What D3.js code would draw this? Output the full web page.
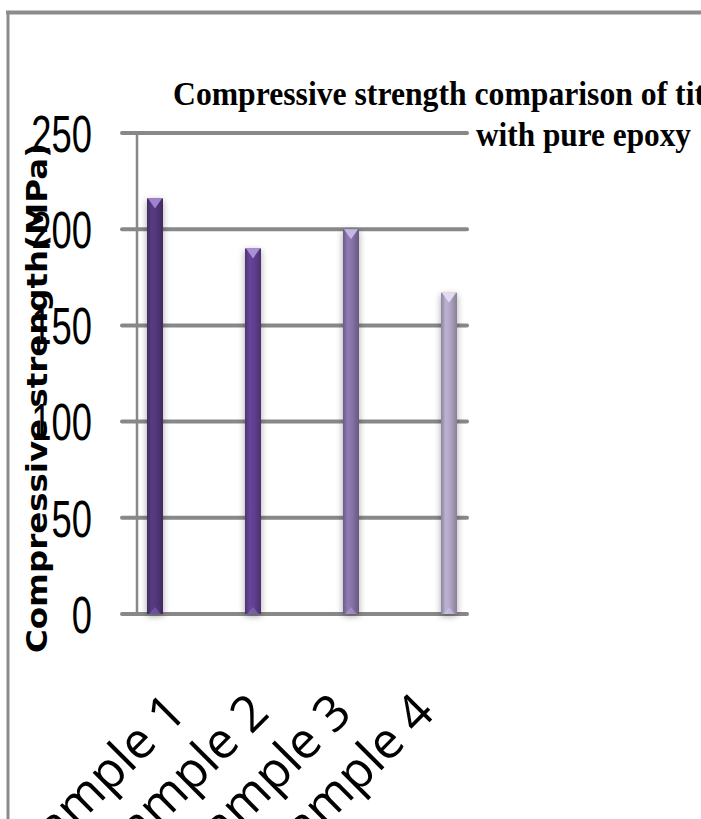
<!DOCTYPE html>
<html>
<head>
<meta charset="utf-8">
<script src="https://cdn.jsdelivr.net/npm/d3@7"></script>
<style>
  html, body { margin: 0; padding: 0; background: #fff; }
  svg { display: block; }
</style>
</head>
<body>
<svg id="chart" width="701" height="819"></svg>
<script>
// ---- data ----
const categories = ["Sample 1", "Sample 2", "Sample 3", "Sample 4"];
const strengthValues = [216, 190, 200, 167];
const yTickValues = [0, 50, 100, 150, 200, 250];
const yTickLabels = ["0", "50", "100", "150", "200", "250"];
const titleLines = ["Compressive strength comparison of tit", "with pure epoxy"];
const yAxisTitle = "Compressive strength(MPa)";

// ---- styles ----
const barColors = ["#51367a", "#5f3f8d", "#8471a6", "#aea3c2"];
const tipColors = ["#9d84cc", "#a88fd6", "#c6b6e3", "#e2daf0"];
const gridColor = "#888888";

const svg = d3.select("#chart");
const W = 701, H = 819;

// scales
const y = d3.scaleLinear().domain([0, 250]).range([614, 133]);
const xBars = d3.scaleBand().domain(categories).range([106, 498]);
const xLabels = d3.scaleBand().domain(categories).range([137, 468]);

const defs = svg.append("defs");
const shadow = defs.append("filter").attr("id", "shadow")
  .attr("x", "-150%").attr("y", "-10%").attr("width", "400%").attr("height", "125%");
shadow.append("feGaussianBlur").attr("in", "SourceAlpha").attr("stdDeviation", 3.5);
shadow.append("feOffset").attr("dx", 0).attr("dy", 2).attr("result", "blur");
shadow.append("feComponentTransfer").append("feFuncA").attr("type", "linear").attr("slope", 0.35);
const merge = shadow.append("feMerge");
merge.append("feMergeNode");
merge.append("feMergeNode").attr("in", "SourceGraphic");

barColors.forEach((c, i) => {
  const g = defs.append("linearGradient").attr("id", "grad" + i)
    .attr("x1", "0%").attr("x2", "100%").attr("y1", "0%").attr("y2", "0%");
  const base = d3.color(c);
  g.append("stop").attr("offset", "0%").attr("stop-color", base.darker(0.6));
  g.append("stop").attr("offset", "30%").attr("stop-color", base.brighter(0.25));
  g.append("stop").attr("offset", "60%").attr("stop-color", base);
  g.append("stop").attr("offset", "100%").attr("stop-color", base.darker(0.7));
});

// outer frame
svg.append("line").attr("x1", 6).attr("x2", W).attr("y1", 12.5).attr("y2", 12.5)
  .attr("stroke", "#8c8c8c").attr("stroke-width", 4);
svg.append("line").attr("x1", 8).attr("x2", 8).attr("y1", 11).attr("y2", H)
  .attr("stroke", "#8c8c8c").attr("stroke-width", 3);

// gridlines
svg.append("g").selectAll("line").data(yTickValues).join("line")
  .attr("x1", 122).attr("x2", 467)
  .attr("y1", d => y(d)).attr("y2", d => y(d))
  .attr("stroke", gridColor).attr("stroke-width", 4).attr("stroke-linecap", "round");

// y axis line
svg.append("line").attr("x1", 137).attr("x2", 137).attr("y1", y(250)).attr("y2", y(0))
  .attr("stroke", gridColor).attr("stroke-width", 2.5);

// y tick labels
svg.append("g").selectAll("g").data(yTickValues).join("g")
  .attr("transform", d => `translate(92,${y(d)}) scale(0.7,1)`)
  .append("text")
  .attr("text-anchor", "end").attr("dy", "0.36em")
  .attr("font-family", "'Liberation Sans', Arial, sans-serif")
  .attr("font-size", 52).attr("fill", "#000")
  .text((d, i) => yTickLabels[i]);

// bars
const barW = 16;
const bars = svg.append("g").selectAll("g").data(categories).join("g");
bars.append("rect")
  .attr("x", d => xBars(d) + xBars.bandwidth() / 2 - barW / 2)
  .attr("width", barW)
  .attr("y", (d, i) => y(strengthValues[i]))
  .attr("height", (d, i) => y(0) - y(strengthValues[i]))
  .attr("fill", (d, i) => `url(#grad${i})`)
  .attr("filter", "url(#shadow)");
bars.append("path")
  .attr("d", (d, i) => {
    const cx = xBars(d) + xBars.bandwidth() / 2;
    const t = y(strengthValues[i]);
    return `M${cx - barW / 2 + 1},${t} L${cx + barW / 2 - 1},${t} L${cx},${t + 10} Z`;
  })
  .attr("fill", (d, i) => tipColors[i]);
bars.append("path")
  .attr("d", d => {
    const cx = xBars(d) + xBars.bandwidth() / 2;
    const b = y(0);
    return `M${cx - barW / 2 + 2},${b} L${cx + barW / 2 - 2},${b} L${cx},${b - 7} Z`;
  })
  .attr("fill", (d, i) => tipColors[i]).attr("opacity", 0.35);

// x labels (partly cut by the bottom edge, as in the reference)
svg.append("g").selectAll("text").data(categories).join("text")
  .attr("transform", d => `translate(${xLabels(d) + xLabels.bandwidth() / 2 + 10},715) rotate(-45)`)
  .attr("text-anchor", "end")
  .attr("font-family", "'Open Sans', sans-serif")
  .attr("font-size", 50).attr("fill", "#000")
  .text(d => d);

// title
svg.append("text").attr("x", 173).attr("y", 105)
  .attr("font-family", "'Liberation Serif', 'Times New Roman', serif")
  .attr("font-weight", "bold").attr("font-size", 34).attr("fill", "#000")
  .attr("textLength", 532).attr("lengthAdjust", "spacingAndGlyphs")
  .text(titleLines[0]);
svg.append("text").attr("x", 476).attr("y", 146)
  .attr("font-family", "'Liberation Serif', 'Times New Roman', serif")
  .attr("font-weight", "bold").attr("font-size", 34).attr("fill", "#000")
  .attr("textLength", 215).attr("lengthAdjust", "spacingAndGlyphs")
  .text(titleLines[1]);

// y axis title
svg.append("text")
  .attr("transform", "translate(47,398) rotate(-90)")
  .attr("text-anchor", "middle")
  .attr("font-family", "'DejaVu Sans', sans-serif")
  .attr("font-weight", "bold").attr("font-size", 28).attr("fill", "#000")
  .attr("textLength", 510).attr("lengthAdjust", "spacingAndGlyphs")
  .text(yAxisTitle);
</script>
</body>
</html>
